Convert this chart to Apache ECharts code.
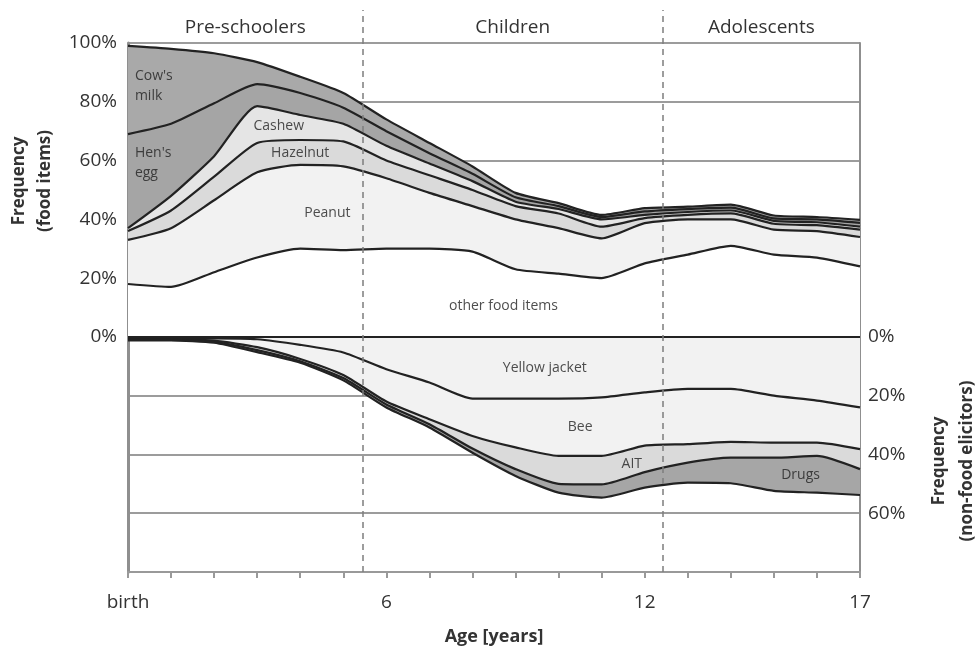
<!DOCTYPE html>
<html>
<head>
<meta charset="utf-8">
<script src="https://cdn.jsdelivr.net/npm/echarts/dist/echarts.min.js"></script>
<style>
html,body{margin:0;padding:0;background:#fff;}
#chart{width:977px;height:651px;}
</style>
</head>
<body>
<div id="chart"></div>
<script>
// ---- data ----
const ages = ['0','1','2','3','4','5','6','7','8','9','10','11','12','13','14','15','16','17'];

// food items (share of patients, %), stacked bottom to top
const otherFood = [18,17,22,27,30,29.5,30,30,29,23,21.5,20,25,28,31,28,27,24];
const peanut    = [15,20,24.5,29,28.5,28.5,24,19,15.5,17,15.5,13.5,13.7,12,9,8.5,9,10];
const hazelnut  = [3,6,8,10,8.5,8.5,6,6,5.5,4.5,5,4,1.7,1.5,2,2,2,2.5];
const cashew    = [1,5,7,12.5,8.5,6,5,4,3,1.5,1.5,2.5,1.1,1,1,1,1,1];
const hensEgg   = [32,24.5,18,7.5,7.5,5.5,5,3.5,2.5,1.5,1,0.8,1.2,1,1,0.8,1,1.3];
const cowsMilk  = [30,25.5,17,7.5,5.5,5,4,3.5,2.5,1.5,1,0.7,1.1,0.8,1,1,0.8,1];

// non-food elicitors (%), stacked downward
const yellowJacket = [0.5,0.5,0.5,0.8,2.7,5.3,11,15.5,21,21,21,20.6,18.9,17.7,17.7,20,21.7,24];
const bee          = [0.3,0.3,0.8,2.7,4.8,7.7,11,12.5,12.7,16.6,19.5,19.9,18.1,18.8,18,16,14.3,14.2];
const ait          = [0.2,0.2,0.4,1,0.8,1,1,1.7,4.3,7.4,9.5,9.7,9,6.3,5.4,5.1,4.5,6.8];
const drugs        = [0.2,0.2,0.3,0.7,0.5,0.8,1,1.1,1.4,2.3,3,4.5,5.3,6.8,8.7,11.3,12.5,8.8];

// age groups
const groupNames  = ['Pre-schoolers','Children','Adolescents'];
const groupBounds = [0, 5.45, 12.42, 17];

// x tick labels
const xTickLabels = {'0':'birth', '6':'6', '12':'12', '17':'17'};

// in-area labels: [age, value, text, align]
const areaLabels = [
  [0.16, 85.4, "Cow's\nmilk", 'left'],
  [0.16, 59.2, "Hen's\negg", 'left'],
  [3.5, 71.7, 'Cashew', 'center'],
  [4.0, 62.6, 'Hazelnut', 'center'],
  [4.63, 42.2, 'Peanut', 'center'],
  [8.72, 10.4, 'other food items', 'center'],
  [9.68, -10.7, 'Yellow jacket', 'center'],
  [10.5, -30.5, 'Bee', 'center'],
  [11.7, -43.3, 'AIT', 'center'],
  [15.62, -47, 'Drugs', 'center']
];

// ---- chart ----
const FONT = '"Open Sans", "DejaVu Sans", sans-serif';
const LINE = '#222222';
const chart = echarts.init(document.getElementById('chart'), null, {renderer:'canvas'});

function areaSeries(name, arr, color, stack, sign, extra){
  return Object.assign({
    name, type:'line', stack, smooth:0.2, symbol:'none',
    xAxisIndex:0, yAxisIndex:0,
    data: arr.map(v=>sign*v),
    lineStyle:{color:LINE, width:2.2},
    areaStyle:{color, opacity:1},
    z:2
  }, extra||{});
}

const series = [
  areaSeries('other food items', otherFood, '#ffffff', 'food', 1, {
    markLine:{silent:true, symbol:'none', label:{show:false},
      lineStyle:{color:'#222', width:2.2, type:'solid'}, data:[{yAxis:0}]}
  }),
  areaSeries('Peanut', peanut, '#f2f2f2', 'food', 1),
  areaSeries('Hazelnut', hazelnut, '#dadada', 'food', 1),
  areaSeries('Cashew', cashew, '#e5e5e5', 'food', 1),
  areaSeries("Hen's egg", hensEgg, '#a5a5a5', 'food', 1),
  areaSeries("Cow's milk", cowsMilk, '#a9a9a9', 'food', 1),
  areaSeries('Yellow jacket', yellowJacket, '#f2f2f2', 'nonfood', -1),
  areaSeries('Bee', bee, '#f2f2f2', 'nonfood', -1),
  areaSeries('AIT', ait, '#dadada', 'nonfood', -1),
  areaSeries('Drugs', drugs, '#a6a6a6', 'nonfood', -1),
  {
    name:'labels', type:'scatter', xAxisIndex:1, yAxisIndex:0, symbolSize:0, z:6, silent:true,
    data: areaLabels.map(l=>({value:[l[0], l[1]], name:l[2],
      label:{align:l[3]}})),
    label:{show:true, position:'inside', formatter:p=>p.name,
      fontFamily:FONT, fontSize:14, color:'#222', lineHeight:20}
  },
  {
    name:'groups', type:'line', xAxisIndex:2, yAxisIndex:2, data:[], z:8, silent:true,
    markLine:{silent:true, symbol:'none', label:{show:false},
      lineStyle:{color:'#7d7d7d', width:1.5, type:[6,5]},
      data: groupBounds.slice(1,3).map(b=>({xAxis:b}))},
    markArea:{silent:true, itemStyle:{color:'rgba(0,0,0,0)'},
      label:{show:true, position:'insideTop', distance:8, fontFamily:FONT, fontSize:19, color:'#333'},
      data: groupNames.map((n,i)=>[{name:n, xAxis:groupBounds[i]},{xAxis:groupBounds[i+1]}])}
  }
];

const option = {
  animation:false,
  backgroundColor:'#fff',
  textStyle:{fontFamily:FONT},
  grid:[
    {left:128, right:117, top:43, bottom:79},
    {left:128, right:117, top:10, bottom:79}
  ],
  xAxis:[
    {type:'category', gridIndex:0, data:ages, boundaryGap:false,
      name:'Age [years]', nameLocation:'middle', nameGap:56,
      nameTextStyle:{fontFamily:FONT, fontSize:18, fontWeight:'bold', color:'#333'},
      axisLine:{onZero:false, lineStyle:{color:'#999', width:2}},
      axisTick:{length:6, interval:0, lineStyle:{color:'#999', width:2}},
      axisLabel:{margin:21, interval:0, fontFamily:FONT, fontSize:19, color:'#333',
        formatter:v=> (xTickLabels[v]!==undefined ? xTickLabels[v] : '')},
      splitLine:{show:false}},
    {type:'value', gridIndex:0, min:0, max:17, show:false},
    {type:'value', gridIndex:1, min:0, max:17, show:false}
  ],
  yAxis:[
    {type:'value', gridIndex:0, min:-80, max:100, interval:20, position:'left',
      axisLine:{show:true, onZero:false, lineStyle:{color:'#8f8f8f', width:3}},
      axisTick:{show:false},
      axisLabel:{margin:11, fontFamily:FONT, fontSize:19, color:'#333',
        formatter:v=> v>=0 ? v+'%' : ''},
      splitLine:{show:true, lineStyle:{color:'#9c9c9c', width:2}}},
    {type:'value', gridIndex:0, min:-80, max:100, interval:20, position:'right',
      axisLine:{show:true, onZero:false, lineStyle:{color:'#8f8f8f', width:2}},
      axisTick:{show:false},
      axisLabel:{margin:8, fontFamily:FONT, fontSize:19, color:'#333',
        formatter:v=> (v<=0 && v>-80) ? (-v)+'%' : ''},
      splitLine:{show:false}},
    {type:'value', gridIndex:1, min:0, max:1, show:false}
  ],
  graphic:[
    {type:'text', x:32, y:181, rotation:Math.PI/2,
      style:{text:'Frequency\n(food items)', fontFamily:FONT, fontSize:17, fontWeight:'bold',
        fill:'#333', align:'center', verticalAlign:'middle', lineHeight:26}},
    {type:'text', x:953, y:461, rotation:Math.PI/2,
      style:{text:'Frequency\n(non-food elicitors)', fontFamily:FONT, fontSize:17, fontWeight:'bold',
        fill:'#333', align:'center', verticalAlign:'middle', lineHeight:28}}
  ],
  series
};
chart.setOption(option);
</script>
</body>
</html>
